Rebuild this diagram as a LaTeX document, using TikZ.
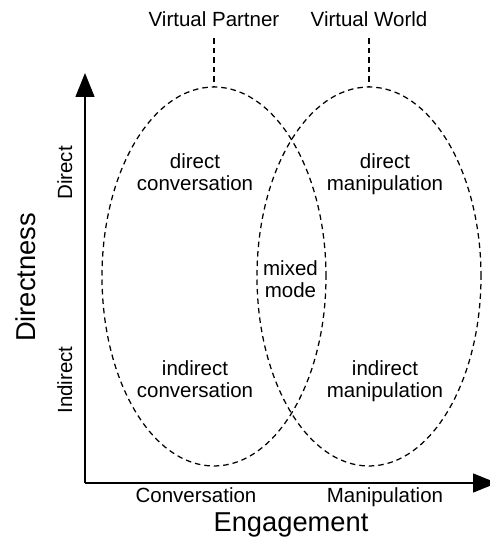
\documentclass[tikz,border=0pt]{standalone}
\usepackage{fontspec}
\setmainfont{Liberation Sans}
\usepackage{tikz}
\usetikzlibrary{shapes.geometric,arrows.meta}

\tikzset{
  zone/.style={ellipse, draw, line width=1.25pt, dash pattern=on 5.5pt off 4pt,
    minimum width=224pt, minimum height=379pt, inner sep=0pt, outer sep=0pt},
  guide/.style={line width=1.25pt, dash pattern=on 5.5pt off 4pt},
  axis/.style={line width=1.4pt, -{Triangle[length=24pt,width=19pt]}},
  txt/.style={font=\fontsize{20.5}{22}\selectfont, align=center, inner sep=0pt},
  big/.style={font=\fontsize{27.3}{30}\selectfont, inner sep=0pt}
}

\begin{document}
\begin{tikzpicture}[x=1pt,y=1pt]
\useasboundingbox (0,0) rectangle (490,549);

\coordinate (o) at (85,66);
\coordinate (ytop) at (85,476);
\coordinate (xend) at (497,66);
\draw[axis] (o) -- (ytop);
\draw[axis] (o) -- (xend);

\node[zone] (partner) at (214,272.5) {};
\node[zone] (world) at (369,272.5) {};

\node[txt, anchor=base, inner ysep=11pt, text depth=0pt] (vp) at (214,522) {Virtual Partner};
\node[txt, anchor=base, inner ysep=11pt, text depth=0pt] (vw) at (369,522) {Virtual World};
\draw[guide] (vp.south) -- (partner.north);
\draw[guide] (vw.south) -- (world.north);

\node[txt] (dc) at (195,376.5) {direct\\conversation};
\node[txt] (dm) at (385,374.5) {direct\\manipulation};
\node[txt] (mm) at (290.5,269.5) {mixed\\mode};
\node[txt] (ic) at (195,169.5) {indirect\\conversation};
\node[txt] (im) at (385,167.5) {indirect\\manipulation};

\node[txt, rotate=90, anchor=base] (ydir) at (72,376) {Direct};
\node[txt, rotate=90, anchor=base] (yind) at (72,169) {Indirect};
\node[big, rotate=90, anchor=base] (ylab) at (35,271.5) {Directness};

\node[txt, anchor=base] (xconv) at (196,46) {Conversation};
\node[txt, anchor=base] (xmanip) at (385,46) {Manipulation};
\node[big, anchor=base] (xlab) at (291,17) {Engagement};

\end{tikzpicture}
\end{document}
